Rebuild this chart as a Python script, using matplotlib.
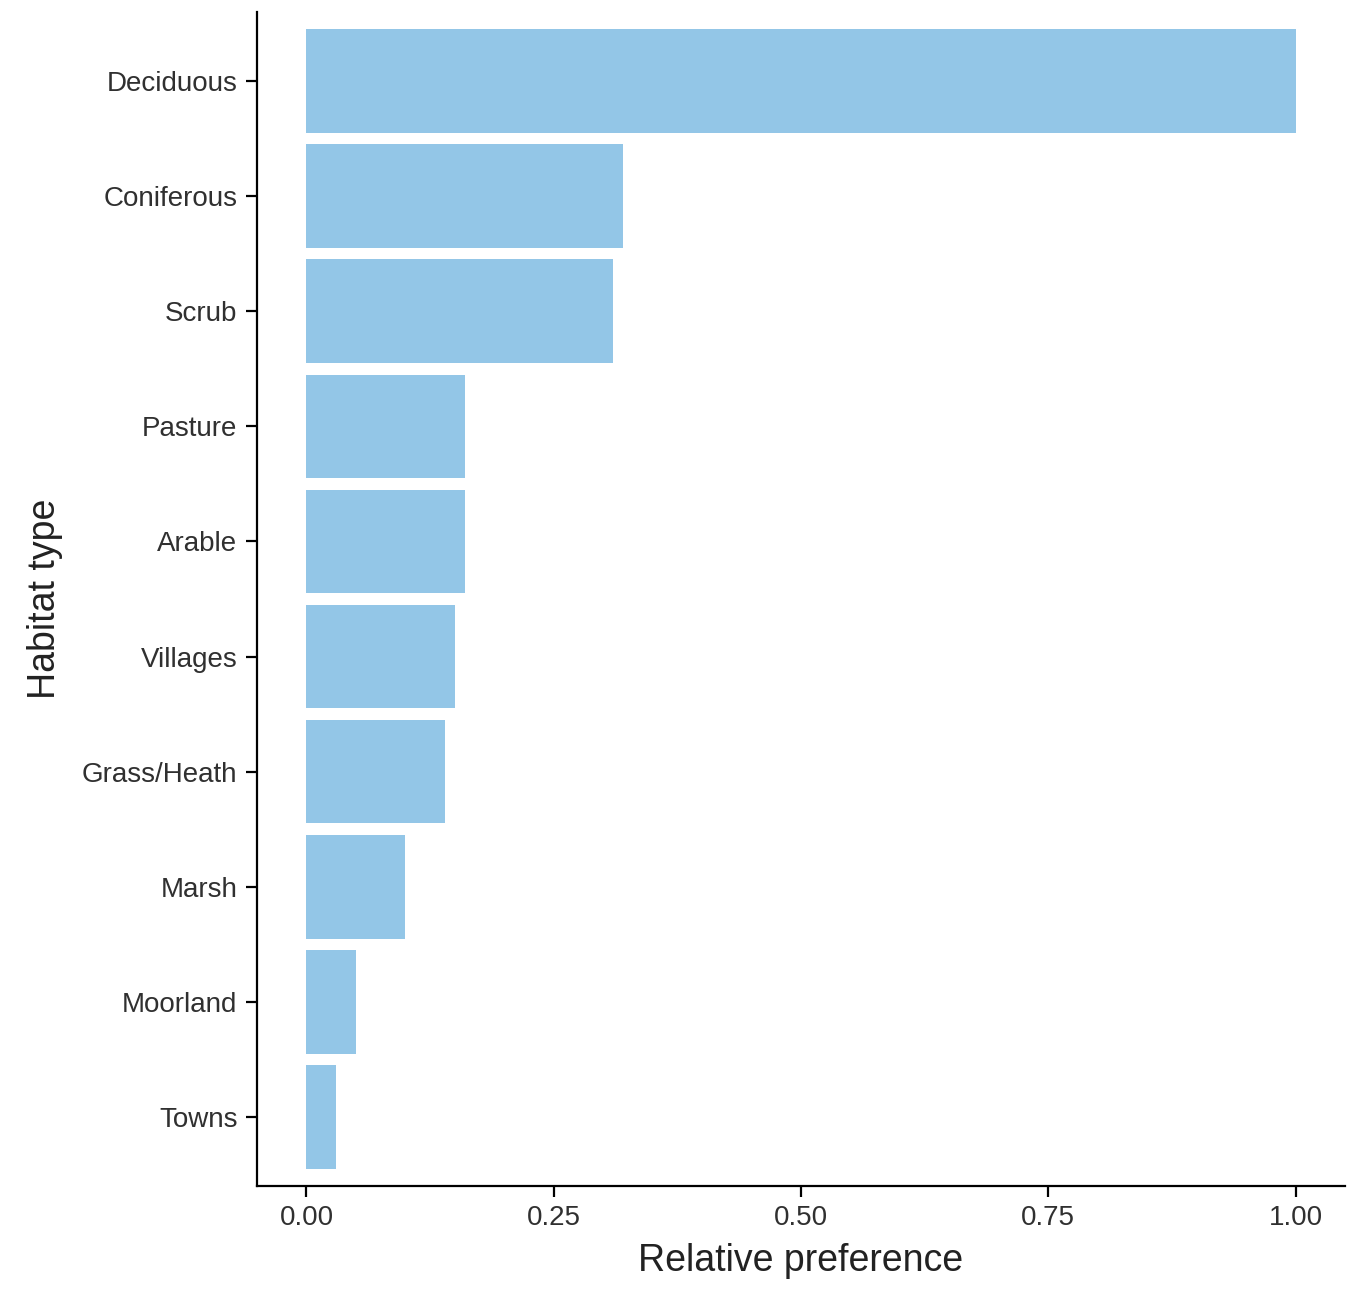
import matplotlib
matplotlib.use("Agg")
import matplotlib.pyplot as plt

habitats = ["Deciduous", "Coniferous", "Scrub", "Pasture", "Arable",
            "Villages", "Grass/Heath", "Marsh", "Moorland", "Towns"]
preference = [1.00, 0.32, 0.31, 0.16, 0.16, 0.15, 0.14, 0.10, 0.05, 0.03]
x_ticks = [0.0, 0.25, 0.5, 0.75, 1.0]
x_labels = ["0.00", "0.25", "0.50", "0.75", "1.00"]

plt.rcParams["font.family"] = "Liberation Sans"

fig = plt.figure(figsize=(13.58, 12.99), dpi=100)
ax = fig.add_axes([257 / 1358, 1 - 1186 / 1299, (1345 - 257) / 1358, (1186 - 12) / 1299])

n = len(habitats)
ypos = list(range(n, 0, -1))
ax.barh(ypos, preference, height=0.9, left=0, color="#93c6e7", align="center")

ax.set_xlim(-0.05, 1.05)
ax.set_ylim(0.4, n + 0.6)
ax.set_yticks(ypos)
ax.set_yticklabels(habitats)
ax.set_xticks(x_ticks)
ax.set_xticklabels(x_labels)

for s in ["top", "right"]:
    ax.spines[s].set_visible(False)
for s in ["left", "bottom"]:
    ax.spines[s].set_linewidth(1.6)
ax.tick_params(axis="both", labelsize=20, colors="black", width=1.6, length=8,
               labelcolor="#303030", pad=6)

ax.set_xlabel("Relative preference", fontsize=27, color="#222222", labelpad=8)
ax.set_ylabel("Habitat type", fontsize=27, color="#222222", labelpad=14)

fig.savefig("out.png", dpi=100)
